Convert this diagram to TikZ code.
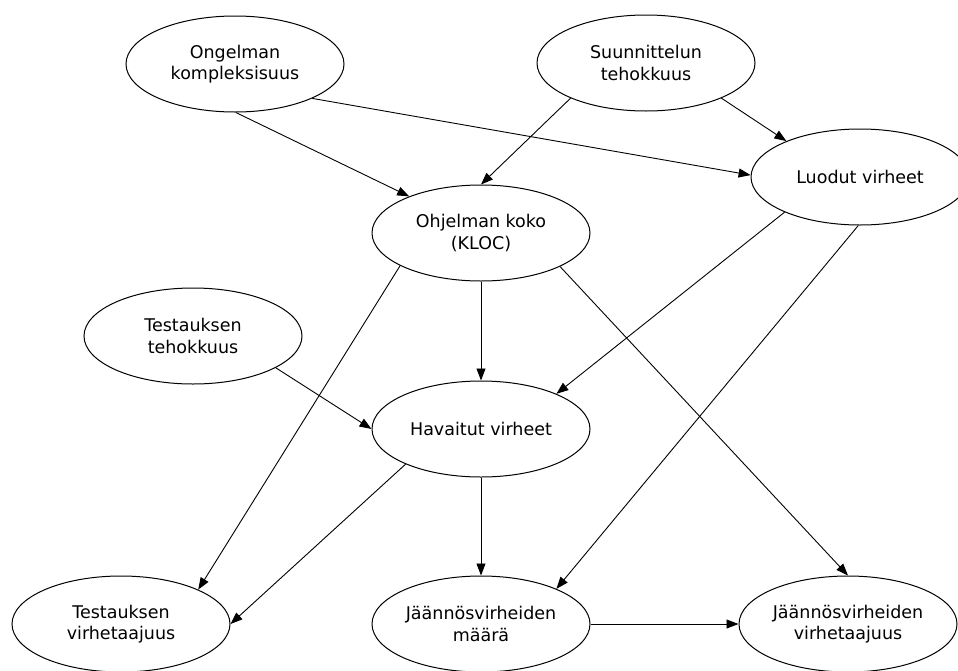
\documentclass[tikz,border=0pt]{standalone}
\usepackage{fontspec}
\setmainfont{DejaVu Sans}
\usetikzlibrary{shapes.geometric,arrows.meta}
\begin{document}
\begin{tikzpicture}[x=1pt,y=-1pt,
  factor/.style={ellipse,draw,line width=1pt,minimum width=218pt,minimum height=96pt,
    inner sep=0pt,align=center,font=\fontsize{17.5}{21.5}\selectfont},
  link/.style={draw,line width=0.9pt,-{Triangle[length=12pt,width=9pt]}}]
\useasboundingbox (0,0) rectangle (958,670);

% factors
\node[factor] (ong) at (235,64)  {Ongelman\\kompleksisuus};
\node[factor] (suu) at (646,63)  {Suunnittelun\\tehokkuus};
\node[factor] (luo) at (860,177) {Luodut virheet};
\node[factor] (koko) at (481,233) {Ohjelman koko\\(KLOC)};
\node[factor] (tt)  at (193,336) {Testauksen\\tehokkuus};
\node[factor] (hav) at (481,429) {Havaitut virheet};
\node[factor] (tv)  at (121,624) {Testauksen\\virhetaajuus};
\node[factor] (jm)  at (481,624) {Jäännösvirheiden\\määrä};
\node[factor] (jv)  at (848,624) {Jäännösvirheiden\\virhetaajuus};

% influences
\draw[link] (ong.-89)  -- (koko.153);
\draw[link] (ong.-24)  -- (luo.179);
\draw[link] (suu.205)  -- (koko.north);
\draw[link] (suu.-25)  -- (luo.154);
\draw[link] (luo.205)  -- (hav.25);
\draw[link] (luo.-92)  -- (jm.25);
\draw[link] (koko.-158) -- (tv.24);
\draw[link] (koko.south) -- (hav.north);
\draw[link] (koko.-23) -- (jv.north);
\draw[link] (tt.-21)   -- (hav.west);
\draw[link] (hav.205)  -- (tv.east);
\draw[link] (hav.south) -- (jm.north);
\draw[link] (jm.east)  -- (jv.west);
\end{tikzpicture}
\end{document}
